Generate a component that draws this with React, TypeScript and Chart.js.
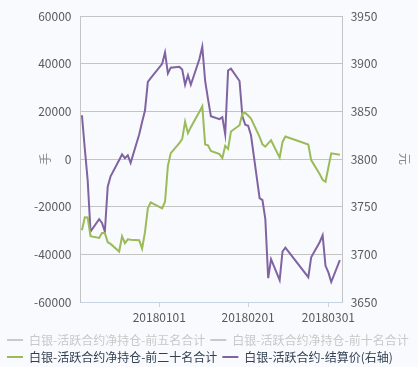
import React, { useEffect, useRef } from 'react';
import { Chart, registerables } from 'chart.js';

Chart.register(...registerables);

const tradeDates = [
  '20171205', '20171206', '20171207', '20171208',
  '20171211', '20171212', '20171213', '20171214', '20171215',
  '20171218', '20171219', '20171220', '20171221', '20171222',
  '20171225', '20171226', '20171227', '20171228', '20171229',
  '20180102', '20180103', '20180104', '20180105',
  '20180108', '20180109', '20180110', '20180111', '20180112',
  '20180115', '20180116', '20180117', '20180118', '20180119',
  '20180122', '20180123', '20180124', '20180125', '20180126',
  '20180129', '20180130', '20180131', '20180201', '20180202',
  '20180205', '20180206', '20180207', '20180208', '20180209',
  '20180212', '20180213', '20180214',
  '20180222', '20180223',
  '20180226', '20180227', '20180228', '20180301', '20180302',
  '20180305',
];

const netTop20 = [
  -29900, -24400, -24500, -32400,
  -33100, -31000, -31000, -34900, -35600,
  -38800, -32400, -35300, -33700, -33900,
  -34100, -37600, -30700, -20700, -18200,
  -20700, -17900, -2800, 2500,
  6700, 8450, 15700, 10900, 13400,
  19900, 22200, 6100, 5800, 3400,
  2100, 400, 5600, 4300, 11600,
  14200, 19200, 19400, 18300, 17000,
  9300, 6200, 5200, 6600, 7900,
  600, 7200, 9500,
  6100, -400,
  -6400, -8700, -9500, -3500, 2400,
  1800,
];

const settlePrice = [
  3846, 3811, 3778, 3724,
  3737, 3733, 3724, 3771, 3782,
  3799, 3805, 3801, 3804, 3796,
  3826, 3839, 3851, 3881, 3885,
  3900, 3912, 3890, 3896,
  3897, 3894, 3878, 3888, 3878,
  3905, 3918, 3882, 3863, 3845,
  3842, 3844, 3826, 3893, 3895,
  3882, 3845, 3836, 3835, 3825,
  3759, 3757, 3737, 3675, 3695,
  3673, 3703, 3707,
  3676, 3697,
  3713, 3720, 3688, 3681, 3671,
  3694,
];

const xTickLabels = ['20180101', '20180201', '20180301'];

const seriesNames = [
  '白银-活跃合约净持仓-前五名合计',
  '白银-活跃合约净持仓-前十名合计',
  '白银-活跃合约净持仓-前二十名合计',
  '白银-活跃合约-结算价(右轴)',
];

const leftTitle = '手';
const rightTitle = '元';

const BASE = Date.UTC(2018, 0, 1);
function dayIndex(s: string): number {
  const y = +s.slice(0, 4);
  const m = +s.slice(4, 6) - 1;
  const d = +s.slice(6, 8);
  return (Date.UTC(y, m, d) - BASE) / 86400000;
}

const FONT = "'Noto Sans CJK SC', 'Noto Sans', sans-serif";

export default function App() {
  const ref = useRef<HTMLCanvasElement | null>(null);

  useEffect(() => {
    const canvas = ref.current;
    if (!canvas) return;
    Chart.defaults.font.family = FONT;
    const colors = ['#c9c9c9', '#c9c9c9', '#9bbb59', '#8064a2'];
    const chart = new Chart(canvas, {
      type: 'line',
      data: {
        datasets: [
          { label: seriesNames[0], data: [], borderColor: colors[0], backgroundColor: colors[0], borderWidth: 2, yAxisID: 'y' },
          { label: seriesNames[1], data: [], borderColor: colors[1], backgroundColor: colors[1], borderWidth: 2, yAxisID: 'y' },
          {
            label: seriesNames[2],
            data: tradeDates.map((d, i) => ({ x: dayIndex(d), y: netTop20[i] })),
            borderColor: colors[2], backgroundColor: colors[2], borderWidth: 2, yAxisID: 'y',
          },
          {
            label: seriesNames[3],
            data: tradeDates.map((d, i) => ({ x: dayIndex(d), y: settlePrice[i] })),
            borderColor: colors[3], backgroundColor: colors[3], borderWidth: 2, yAxisID: 'y1',
          },
        ],
      },
      options: {
        animation: false,
        responsive: false,
        devicePixelRatio: 1,
        layout: { padding: { left: 2, right: 0, top: 11, bottom: -6 } },
        elements: { point: { radius: 0 }, line: { tension: 0 } },
        plugins: {
          tooltip: { enabled: false },
          legend: {
            position: 'bottom',
            align: 'start',
            labels: {
              usePointStyle: true,
              pointStyle: 'line',
              pointStyleWidth: 16,
              padding: 5,
              font: { family: FONT, size: 12 },
              generateLabels: (c: any) => {
                const items = Chart.defaults.plugins.legend.labels.generateLabels(c);
                return items.map((it: any, i: number) => ({
                  ...it,
                  hidden: false,
                  lineWidth: 2,
                  strokeStyle: colors[i],
                  fillStyle: colors[i],
                  fontColor: i < 2 ? '#c8c8c8' : '#333f50',
                }));
              },
            },
          },
        },
        scales: {
          x: {
            type: 'linear',
            min: -27.5,
            max: 64,
            afterBuildTicks: (s: any) => {
              s.ticks = xTickLabels.map((l) => ({ value: dayIndex(l) }));
            },
            afterFit: (s: any) => { s.height = 27; },
            ticks: {
              autoSkip: false,
              maxRotation: 0,
              padding: 3,
              color: '#595959',
              font: { family: FONT, size: 12 },
              callback: (_v: any, i: number) => xTickLabels[i],
            },
            grid: { drawOnChartArea: false, drawTicks: true, tickLength: 5, color: '#c5d3e3' },
            border: { color: '#c5d3e3' },
          },
          y: {
            position: 'left',
            min: -60000,
            max: 60000,
            afterFit: (s: any) => { s.width = 78.5; },
            ticks: {
              stepSize: 20000, padding: 9, color: '#595959', font: { family: FONT, size: 12 },
              callback: (v: any) => String(v),
            },
            grid: { color: '#c4c4c4', drawTicks: false },
            border: { color: '#c4c4c4' },
            title: { display: true, text: leftTitle, color: '#8a8a8a', font: { family: FONT, size: 12 }, padding: { top: 36, bottom: 0 } },
          },
          y1: {
            position: 'right',
            min: 3650,
            max: 3950,
            afterFit: (s: any) => { s.width = 75.3; },
            ticks: {
              stepSize: 50, padding: 8, color: '#595959', font: { family: FONT, size: 12 },
              callback: (v: any) => String(v),
            },
            grid: { drawOnChartArea: false, drawTicks: false, color: '#c4c4c4' },
            border: { color: '#c4c4c4' },
            title: { display: true, text: rightTitle, color: '#8a8a8a', font: { family: FONT, size: 12 }, padding: { top: 6, bottom: 0 } },
          },
        },
      } as any,
    });
    return () => chart.destroy();
  }, []);

  return (
    <div style={{ position: 'fixed', left: 0, top: 0, width: 418, height: 367, background: '#f8fafd', overflow: 'hidden' }}>
      <canvas ref={ref} width={418} height={367} style={{ display: 'block' }} />
    </div>
  );
}
